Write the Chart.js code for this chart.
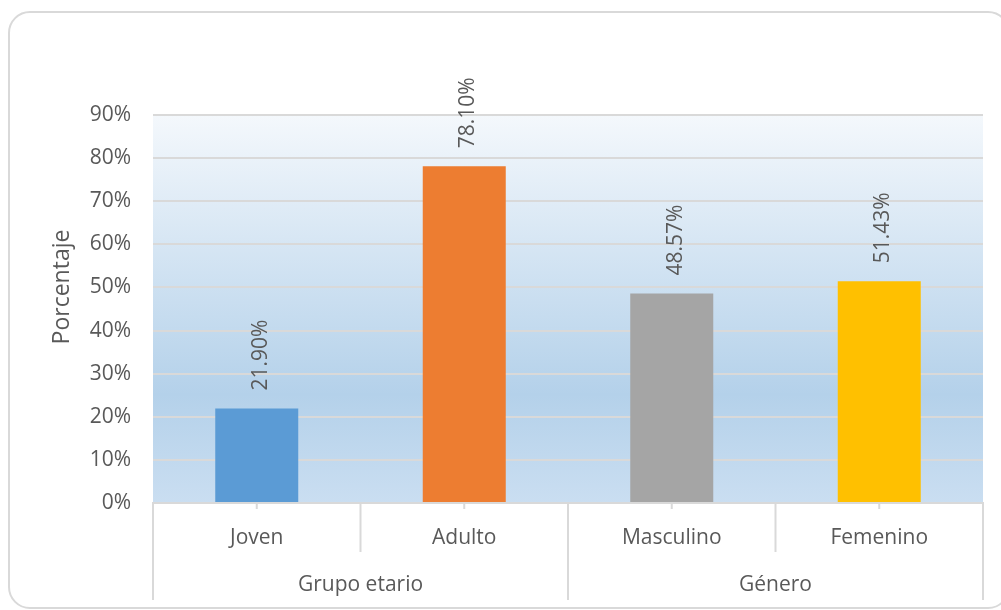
<!DOCTYPE html>
<html>
<head>
<meta charset="utf-8">
<script src="https://cdn.jsdelivr.net/npm/chart.js@4.4.1/dist/chart.umd.min.js"></script>
<style>
  html, body { margin: 0; padding: 0; background: #fff; }
  #wrap { position: relative; width: 1001px; height: 610px; }
  #frame {
    position: absolute; left: 8px; top: 11px; width: 998px; height: 594px;
    border: 2px solid #d9d9d9; border-radius: 22px; pointer-events: none;
  }
  canvas { position: absolute; left: 0; top: 0; }
</style>
</head>
<body>
<div id="wrap">
  <canvas id="chart" width="1001" height="610"></canvas>
  <div id="frame"></div>
</div>
<script>
// data
const categories = ['Joven', 'Adulto', 'Masculino', 'Femenino'];
const values = [0.219, 0.781, 0.4857, 0.5143];
const valueLabels = ['21.90%', '78.10%', '48.57%', '51.43%'];
const groups = ['Grupo etario', 'Género'];
const groupSizes = [2, 2];
const barColors = ['#5b9bd5', '#ed7d31', '#a5a5a5', '#ffc000'];
const yTitle = 'Porcentaje';

const textColor = '#595959';
const lineColor = '#d9d9d9';
const fontFamily = '"Open Sans", Lato, sans-serif';

// gradient fill behind the bars
const plotBackground = {
  id: 'plotBackground',
  beforeDraw(chart) {
    const { ctx, chartArea: a } = chart;
    const g = ctx.createLinearGradient(0, a.top, 0, a.bottom);
    g.addColorStop(0, '#f4f8fc');
    g.addColorStop(0.72, '#b4d1ea');
    g.addColorStop(1, '#cadef1');
    ctx.save();
    ctx.fillStyle = g;
    ctx.fillRect(a.left, a.top, a.right - a.left, a.bottom - a.top);
    ctx.restore();
  }
};

// rotated value labels above each bar, plus the y axis title
const barLabels = {
  id: 'barLabels',
  afterDatasetsDraw(chart) {
    const { ctx, chartArea: a } = chart;
    const meta = chart.getDatasetMeta(0);
    ctx.save();
    ctx.fillStyle = textColor;
    ctx.font = '21px ' + fontFamily;
    ctx.textAlign = 'left';
    ctx.textBaseline = 'middle';
    meta.data.forEach((bar, i) => {
      ctx.save();
      ctx.translate(bar.x + 4, bar.y - 18);
      ctx.rotate(-Math.PI / 2);
      ctx.fillText(valueLabels[i], 0, 0);
      ctx.restore();
    });
    ctx.font = '23px ' + fontFamily;
    ctx.textAlign = 'center';
    ctx.translate(62, (a.top + a.bottom) / 2 - 22);
    ctx.rotate(-Math.PI / 2);
    ctx.fillText(yTitle, 0, 0);
    ctx.restore();
  }
};

// two-level category axis: separators, tick marks and group names
const groupAxis = {
  id: 'groupAxis',
  afterDraw(chart) {
    const { ctx } = chart;
    const x = chart.scales.x;
    const top = x.top;
    const half = (x.getPixelForValue(1) - x.getPixelForValue(0)) / 2;
    ctx.save();
    ctx.strokeStyle = lineColor;
    ctx.lineWidth = 2;
    // tick marks at category centres
    categories.forEach((c, i) => {
      const px = x.getPixelForValue(i);
      ctx.beginPath();
      ctx.moveTo(px, top);
      ctx.lineTo(px, top + 6);
      ctx.stroke();
    });
    // separators
    const groupEdges = [0];
    groupSizes.reduce((s, n) => { groupEdges.push(s + n); return s + n; }, 0);
    for (let i = 0; i <= categories.length; i++) {
      const px = i < categories.length ? x.getPixelForValue(i) - half : x.getPixelForValue(i - 1) + half;
      const long = groupEdges.includes(i);
      ctx.beginPath();
      ctx.moveTo(px, top);
      ctx.lineTo(px, top + (long ? 97 : 49));
      ctx.stroke();
    }
    // group names
    ctx.fillStyle = textColor;
    ctx.font = '21px ' + fontFamily;
    ctx.textAlign = 'center';
    ctx.textBaseline = 'middle';
    let start = 0;
    groups.forEach((g, k) => {
      const a = x.getPixelForValue(start) - half;
      const b = x.getPixelForValue(start + groupSizes[k] - 1) + half;
      ctx.fillText(g, (a + b) / 2, top + 82);
      start += groupSizes[k];
    });
    ctx.restore();
  }
};

new Chart(document.getElementById('chart'), {
  type: 'bar',
  data: {
    labels: categories,
    datasets: [{
      data: values,
      backgroundColor: barColors,
      barPercentage: 0.4,
      categoryPercentage: 1
    }]
  },
  options: {
    responsive: false,
    animation: false,
    layout: { padding: { left: 0, top: 115, right: 18, bottom: 0 } },
    plugins: {
      legend: { display: false },
      tooltip: { enabled: false }
    },
    scales: {
      x: {
        grid: { display: false },
        border: { display: true, color: lineColor, width: 2 },
        ticks: {
          color: textColor,
          font: { family: fontFamily, size: 21 },
          padding: 14
        },
        afterFit(scale) { scale.height = 107; }
      },
      y: {
        min: 0,
        max: 0.9,
        grid: { color: lineColor, lineWidth: 2, drawTicks: false },
        border: { display: false },
        ticks: {
          stepSize: 0.1,
          color: textColor,
          font: { family: fontFamily, size: 21 },
          padding: 22,
          callback: v => Math.round(v * 100) + '%'
        },
        afterFit(scale) { scale.width = 153; }
      }
    }
  },
  plugins: [plotBackground, barLabels, groupAxis]
});
</script>
</body>
</html>
